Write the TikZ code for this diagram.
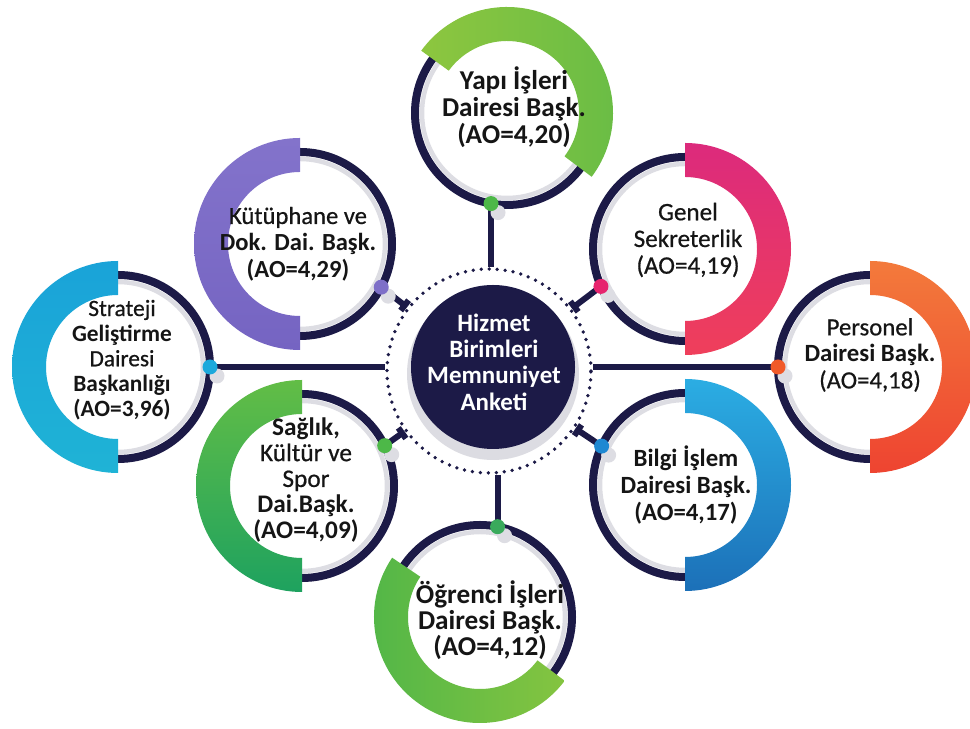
\documentclass[tikz,border=0pt]{standalone}
\usepackage{fontspec}
\setmainfont{Carlito}
\newfontfamily\medfont{Carlito}[FakeBold=0.6]
\usetikzlibrary{arrows.meta,calc}
\definecolor{navy}{HTML}{1C1A47}
\definecolor{textc}{HTML}{151515}
\definecolor{shadowc}{HTML}{DDDDE3}
\definecolor{hubshadowc}{HTML}{DCDCE2}
\definecolor{dotA}{HTML}{4DB848}
\definecolor{dotB}{HTML}{E6246E}
\definecolor{dotC}{HTML}{F15A29}
\definecolor{dotD}{HTML}{1E88D2}
\definecolor{dotE}{HTML}{3AAA5C}
\definecolor{dotF}{HTML}{4DB848}
\definecolor{dotG}{HTML}{1CA9DC}
\definecolor{dotH}{HTML}{7E6FC8}
\tikzset{
  navyring/.style={draw=navy, line width=0.16cm},
  innershadow/.style={draw=shadowc, line width=0.09cm},
  conn/.style={draw=navy, line width=0.12cm},
  jdot/.style={circle, inner sep=0pt, minimum size=0.3cm},
  dshadow/.style={circle, inner sep=0pt, minimum size=0.3cm, fill=shadowc},
  lbl/.style={align=center, text=textc, inner sep=0pt},
  hubring/.style={circle, minimum size=4.08cm, inner sep=0pt, draw=navy,
    line width=0.075cm, line cap=round, dash pattern=on 0pt off 0.16cm},
}
\newcommand\annsector[4]{% #1 center, #2 start, #3 end, #4 shading
  \shade[#4, shift={#1}] (#2:106) arc[start angle=#2, end angle=#3, radius=106]
    -- (#3:72) arc[start angle=#3, end angle=#2, radius=72] -- cycle;}
\newcommand\satring[1]{% #1 center
  \draw[innershadow] #1 circle[radius=85];
  \draw[navyring] #1 circle[radius=92];}
\begin{document}
\begin{tikzpicture}[x=0.02cm, y=0.02cm]
\useasboundingbox[fill=white] (0,0) rectangle (970,729);

% ---- centres of the satellites
\coordinate (cA) at (507,616); % Yapi
\coordinate (cB) at (685,480); % Genel
\coordinate (cC) at (870,362); % Personel
\coordinate (cD) at (685,244); % Bilgi
\coordinate (cE) at (480,112); % Ogrenci
\coordinate (cF) at (302,243); % Saglik
\coordinate (cG) at (118,362); % Strateji
\coordinate (cH) at (300,485); % Kutuphane
% ---- junction points
\coordinate (pA) at ($(cA)+(260:92)$);
\coordinate (pB) at ($(cB)+(204:92)$);
\coordinate (pC) at ($(cC)+(180:92)$);
\coordinate (pD) at ($(cD)+(155:92)$);
\coordinate (pE) at ($(cE)+(79:92)$);
\coordinate (pF) at ($(cF)+(26:92)$);
\coordinate (pG) at ($(cG)+(0:92)$);
\coordinate (pH) at ($(cH)+(-28:92)$);

% ---- hub
\fill[hubshadowc] (493,355) circle[radius=86];
\fill[navy] (493,362) circle[radius=82];
\node[hubring] (ring) at (489,358) {};

% ---- connectors
\draw[conn] (pA) -- (pA |- ring.north);
\draw[conn] (pE) -- (pE |- ring.south);
\draw[conn] (pG) -- (pG -| ring.west);
\draw[conn] (pC) -- (pC -| ring.east);
\draw[conn, -{Bar[width=0.26cm]}] (pH) -- (ring);
\draw[conn, -{Bar[width=0.26cm]}] (pB) -- (ring);
\draw[conn, -{Bar[width=0.26cm]}] (pF) -- (ring);
\draw[conn, -{Bar[width=0.26cm]}] (pD) -- (ring);

% ---- rings
\satring{(cA)}
\satring{(cB)}
\satring{(cC)}
\satring{(cD)}
\satring{(cE)}
\satring{(cF)}
\satring{(cG)}
\satring{(cH)}

% ---- thick coloured arcs
\annsector{(cA)}{144}{-37}{left color={rgb,255:red,141;green,198;blue,63}, middle color={rgb,255:red,52;green,168;blue,83}, right color={rgb,255:red,106;green,189;blue,69}}
\annsector{(cB)}{90}{-90}{top color={rgb,255:red,220;green,42;blue,124}, bottom color={rgb,255:red,239;green,63;blue,91}}
\annsector{(cC)}{90}{-90}{top color={rgb,255:red,243;green,122;blue,59}, bottom color={rgb,255:red,238;green,68;blue,49}}
\annsector{(cD)}{90}{-90}{top color={rgb,255:red,43;green,173;blue,227}, bottom color={rgb,255:red,28;green,112;blue,184}}
\annsector{(cE)}{146}{323}{left color={rgb,255:red,80;green,182;blue,72}, middle color={rgb,255:red,40;green,166;blue,96}, right color={rgb,255:red,132;green,196;blue,64}}
\annsector{(cF)}{90}{270}{top color={rgb,255:red,98;green,189;blue,70}, bottom color={rgb,255:red,30;green,162;blue,95}}
\annsector{(cG)}{90}{270}{top color={rgb,255:red,26;green,163;blue,216}, bottom color={rgb,255:red,31;green,179;blue,214}}
\annsector{(cH)}{90}{270}{top color={rgb,255:red,131;green,115;blue,203}, bottom color={rgb,255:red,117;green,100;blue,194}}

% ---- junction dots
\foreach \p/\c in {pA/dotA,pB/dotB,pC/dotC,pD/dotD,pE/dotE,pF/dotF,pG/dotG,pH/dotH}{
  \node[dshadow] at ($(\p)+(7,-9)$) {};
  \node[jdot, fill=\c] (d\p) at (\p) {};
}

% ---- hub text
\node[align=center, text=white, inner sep=0pt,
  font=\fontsize{14.2}{15}\selectfont\bfseries] (hubtxt) at (494,367)
  {Hizmet\\Birimleri\\Memnuniyet\\Anketi};

% ---- labels
\node[lbl, font=\fontsize{15.5}{15.3}\selectfont\bfseries] (tA) at (514,622)
  {Yapı İşleri\\Dairesi Başk.\\(AO=4,20)};
\node[lbl, font=\fontsize{14.3}{15.2}\selectfont\medfont] (tB) at (688,489)
  {Genel\\Sekreterlik\\(AO=4,19)};
\node[lbl, font=\fontsize{14.1}{15.1}\selectfont] (tC) at (870,374)
  {{\medfont Personel}\\\textbf{Dairesi Başk.}\\{\medfont (AO=4,18)}};
\node[lbl, font=\fontsize{14.1}{15.3}\selectfont\bfseries] (tD) at (686,244)
  {Bilgi İşlem\\Dairesi Başk.\\(AO=4,17)};
\node[lbl, font=\fontsize{15.5}{14.9}\selectfont\bfseries] (tE) at (490,109)
  {Öğrenci İşleri\\Dairesi Başk.\\(AO=4,12)};
\node[lbl, font=\fontsize{14.4}{14.7}\selectfont] (tF) at (306,249)
  {\textbf{Sağlık,}\\{\medfont Kültür ve}\\{\medfont Spor}\\\textbf{Dai.Başk.}\\\textbf{(AO=4,09)}};
\node[lbl, font=\fontsize{13.3}{14.3}\selectfont] (tG) at (122,369)
  {{\medfont Strateji}\\\textbf{Geliştirme}\\{\medfont Dairesi}\\\textbf{Başkanlığı}\\\textbf{(AO=3,96)}};
\node[lbl, font=\fontsize{14}{15.2}\selectfont] (tH) at (298,485)
  {{\medfont Kütüphane ve}\\\textbf{Dok. Dai. Başk.}\\\textbf{(AO=4,29)}};
\end{tikzpicture}
\end{document}
